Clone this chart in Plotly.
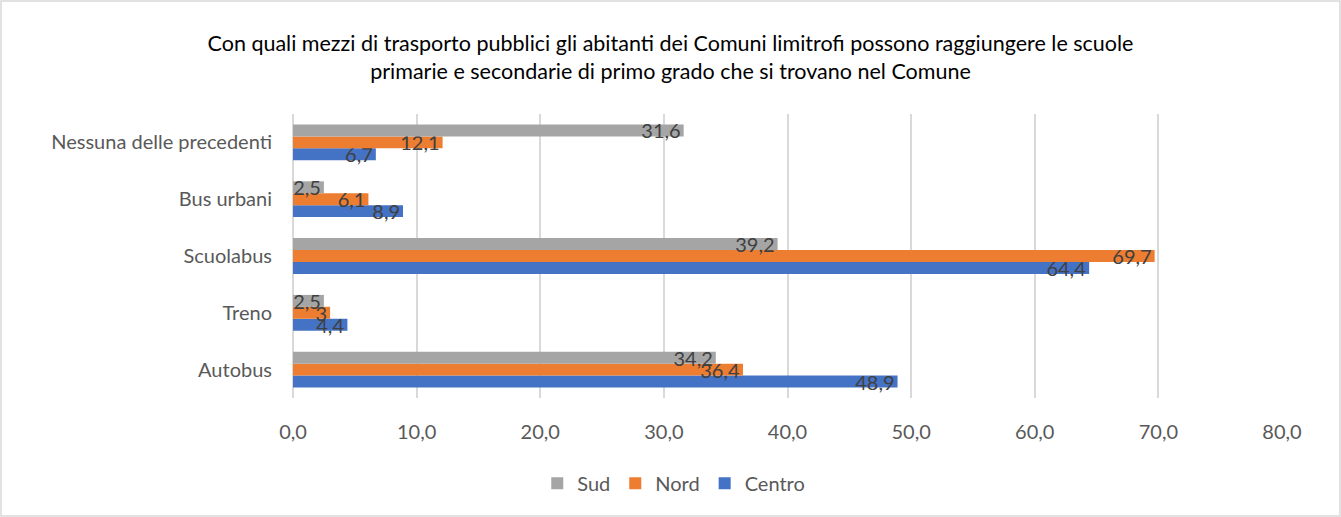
import plotly.graph_objects as go

categories = ["Autobus", "Treno", "Scuolabus", "Bus urbani", "Nessuna delle precedenti"]
centro = [48.9, 4.4, 64.4, 8.9, 6.7]
nord = [36.4, 3, 69.7, 6.1, 12.1]
sud = [34.2, 2.5, 39.2, 2.5, 31.6]
x_ticks = [0, 10, 20, 30, 40, 50, 60, 70, 80]


def fmt(v):
    return ("%g" % v).replace(".", ",")


series = [("Centro", centro, "#4472C4"), ("Nord", nord, "#ED7D31"), ("Sud", sud, "#A5A5A5")]

font = "Lato, Liberation Sans, sans-serif"

fig = go.Figure()
for name, vals, col in series:
    fig.add_trace(go.Bar(
        y=categories, x=vals, name=name, orientation="h",
        marker=dict(color=col, line=dict(width=0)),
        text=[fmt(v) for v in vals], textposition="inside", insidetextanchor="end",
        textangle=0, constraintext="none", cliponaxis=False,
        textfont=dict(size=20, color="#404040", family=font),
    ))

fig.update_layout(
    width=1341, height=517,
    margin=dict(l=293, r=59, t=114, b=119),
    paper_bgcolor="white", plot_bgcolor="white",
    barmode="group", bargap=0.37, bargroupgap=0,
    separators=",.",
    font=dict(family=font, color="#595959", size=20),
    title=dict(
        text="Con quali mezzi di trasporto pubblici gli abitanti dei Comuni limitrofi possono raggiungere le scuole<br>primarie e secondarie di primo grado che si trovano nel Comune",
        x=0.5, xanchor="center", y=0.902, yanchor="middle",
        font=dict(size=21.5, color="#000000", family=font),
    ),
    legend=dict(orientation="h", x=0.385, xanchor="center",
                y=-0.30, yanchor="middle",
                traceorder="reversed", font=dict(size=20, color="#595959")),
    showlegend=True,
)
fig.update_xaxes(range=[0, 80], tickvals=x_ticks, tickformat=".1f",
                 showgrid=True, gridcolor="#D9D9D9", gridwidth=1.5,
                 zeroline=True, zerolinecolor="#D9D9D9", zerolinewidth=1.5,
                 showline=False, ticks="", ticklabelstandoff=20,
                 tickfont=dict(size=20, color="#595959"))
fig.update_yaxes(showgrid=False, showline=False, ticks="", ticklabelstandoff=20,
                 tickfont=dict(size=20, color="#595959"))

# border around the whole chart
fig.add_shape(type="rect", xref="paper", yref="paper",
              x0=-292 / 989, x1=1 + 58 / 989, y0=-118 / 284, y1=1 + 113 / 284,
              line=dict(color="#D9D9D9", width=1.5), fillcolor="rgba(0,0,0,0)", layer="below")

fig.write_html("out.html", config={"displayModeBar": False},
               post_script="document.body.style.margin='0';")
